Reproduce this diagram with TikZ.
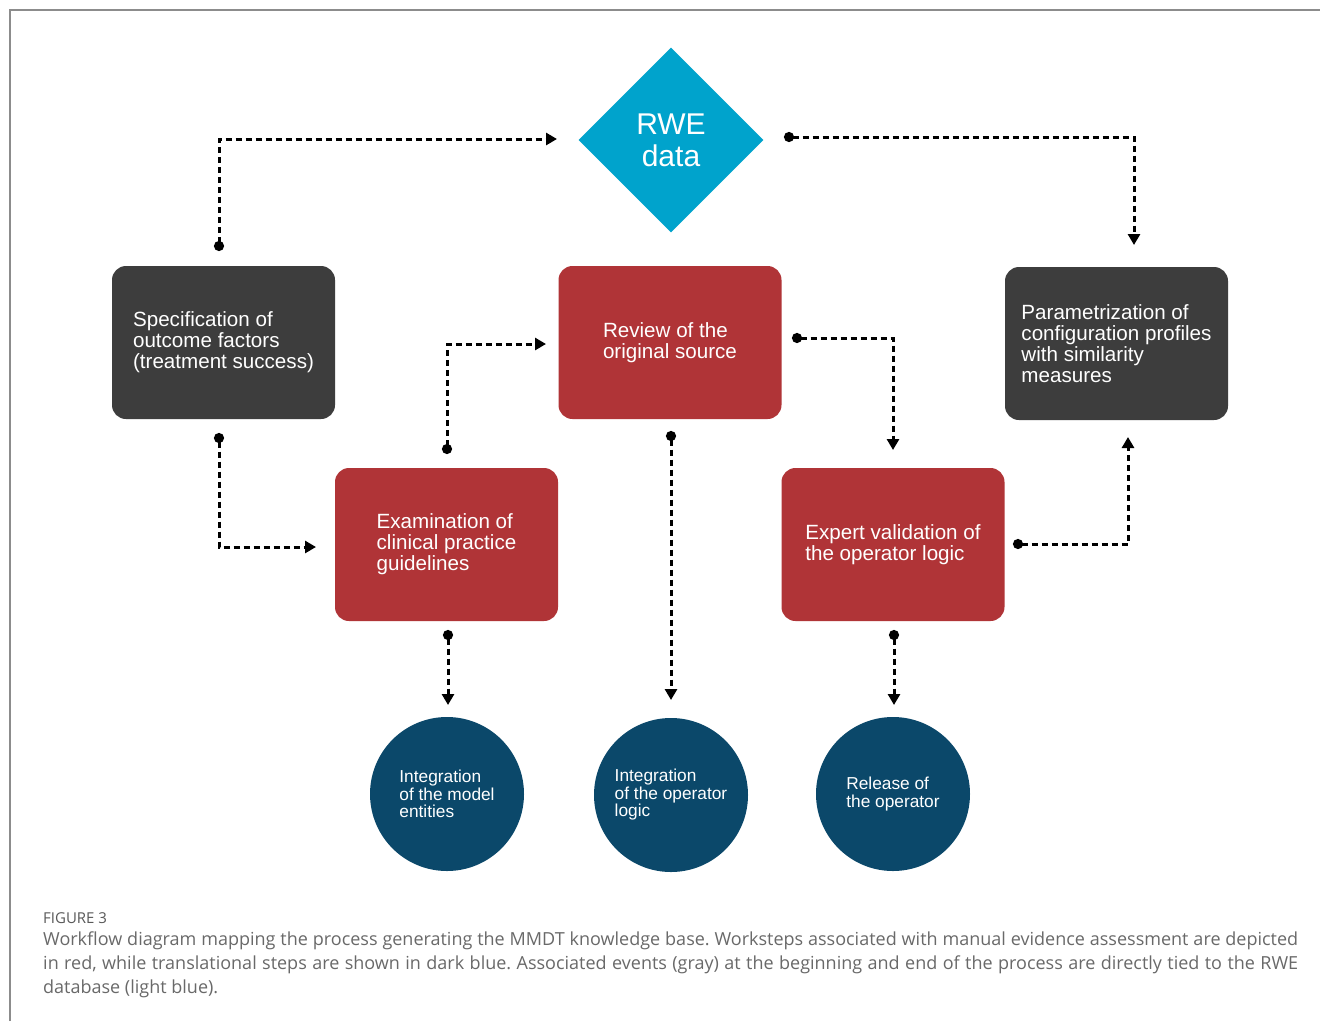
\documentclass[tikz,border=0pt]{standalone}
\usepackage{fontspec}
\setmainfont{Liberation Sans}
\newfontfamily\capfont{Open Sans}
\usetikzlibrary{shapes.geometric,arrows.meta}
\definecolor{boxred}{RGB}{176,52,55}
\definecolor{boxgray}{RGB}{61,61,61}
\definecolor{circblue}{RGB}{11,72,106}
\definecolor{lightblue}{RGB}{0,163,204}
\definecolor{framegray}{RGB}{140,140,140}
\definecolor{capgray}{RGB}{105,105,105}
\begin{document}
\frenchspacing
\begin{tikzpicture}[x=1pt,y=-1pt,
  box/.style={rectangle, rounded corners=14pt, minimum width=223pt, minimum height=153pt,
    inner sep=0pt, text=white, align=left, font=\fontsize{20.6}{21}\selectfont},
  redbox/.style={box, fill=boxred},
  graybox/.style={box, fill=boxgray},
  circ/.style={circle, fill=circblue, minimum size=154pt, inner sep=0pt, text=white,
    align=left, font=\fontsize{17.3}{17.5}\selectfont},
  conn/.style={line width=3pt, dash pattern=on 6pt off 4pt,
    {Circle[length=10pt,width=10pt]}-{Triangle[length=11pt,width=12pt]}}
]
\useasboundingbox (0,0) rectangle (1320,1021);
\fill[white] (0,0) rectangle (1320,1021);
\draw[framegray, line width=1.2pt] (10,1021) -- (10,10) -- (1320,10);

% nodes
\node[diamond, fill=lightblue, minimum width=185pt, minimum height=185pt, inner sep=0pt,
  text=white, align=center, font=\fontsize{30}{32}\selectfont] (rwe) at (671,140) {RWE\\data};
\node[graybox] (spec) at (223.5,342.5) {Specification of\\outcome factors\\(treatment success)};
\node[redbox] (review) at (670,342.5) {Review of the\\original source};
\node[graybox] (param) at (1116.5,343.5) {Parametrization of\\configuration profiles\\with similarity\\measures};
\node[redbox] (exam) at (446.5,544.5) {Examination of\\clinical practice\\guidelines};
\node[redbox] (expert) at (893,544.5) {Expert validation of\\the operator logic};
\node[circ] (c1) at (447,794) {Integration\\of the model\\entities};
\node[circ] (c2) at (671,795) {Integration\\of the operator\\logic};
\node[circ] (c3) at (893,794) {Release of\\the operator};

% connector end points
\coordinate (a1s) at (219,251);  \coordinate (a1e) at (557,139);
\coordinate (a2s) at (784,137);  \coordinate (a2e) at (1134,245);
\coordinate (a3s) at (219,433);  \coordinate (a3e) at (316,547);
\coordinate (a4s) at (447,454);  \coordinate (a4e) at (546,344);
\coordinate (a5s) at (792,338);  \coordinate (a5e) at (893,450);
\coordinate (a6s) at (671,431);  \coordinate (a6e) at (671,700);
\coordinate (a7s) at (1013,544); \coordinate (a7e) at (1128,437);
\coordinate (a8s) at (448,630);  \coordinate (a8e) at (448,705);
\coordinate (a9s) at (894,630);  \coordinate (a9e) at (894,705);

\draw[conn] (a1s) |- (a1e);
\draw[conn] (a2s) -| (a2e);
\draw[conn] (a3s) |- (a3e);
\draw[conn] (a4s) |- (a4e);
\draw[conn] (a5s) -| (a5e);
\draw[conn] (a6s) -- (a6e);
\draw[conn] (a7s) -| (a7e);
\draw[conn] (a8s) -- (a8e);
\draw[conn] (a9s) -- (a9e);

% caption
\node[anchor=west, inner sep=0pt, text=capgray!85!black, font=\capfont\fontsize{15}{16}\selectfont] (fig) at (43,918) {FIGURE 3};
\node[anchor=west, inner sep=0pt, text=capgray, font=\capfont\fontsize{18}{20}\selectfont] (cap1) at (43,941)
  {\makebox[1255pt][s]{Workflow diagram mapping the process generating the MMDT knowledge base. Worksteps associated with manual evidence assessment are depicted}};
\node[anchor=west, inner sep=0pt, text=capgray, font=\capfont\fontsize{18}{20}\selectfont] (cap2) at (43,965)
  {\makebox[1255pt][s]{in red, while translational steps are shown in dark blue. Associated events (gray) at the beginning and end of the process are directly tied to the RWE}};
\node[anchor=west, inner sep=0pt, text=capgray, font=\capfont\fontsize{18}{20}\selectfont] (cap3) at (43,989)
  {database (light blue).};
\end{tikzpicture}
\end{document}
